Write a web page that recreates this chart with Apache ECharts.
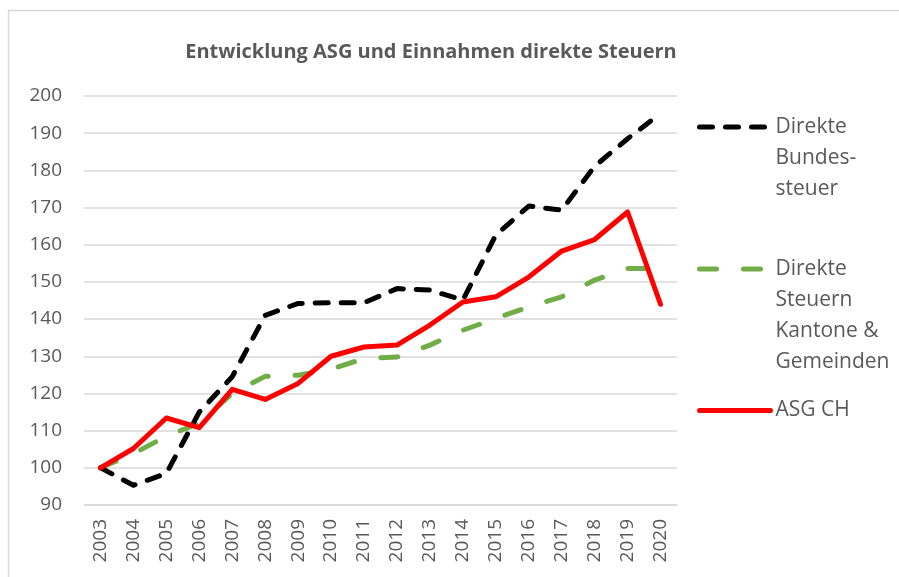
<!DOCTYPE html>
<html>
<head>
<meta charset="utf-8">
<script src="https://cdn.jsdelivr.net/npm/echarts@6/dist/echarts.min.js"></script>
<style>
  html, body { margin: 0; padding: 0; background: #fff; }
  #chart { width: 899px; height: 577px; }
</style>
</head>
<body>
<div id="chart"></div>
<script>
// Jahre (Kategorien der x-Achse)
const years = ["2003", "2004", "2005", "2006", "2007", "2008", "2009", "2010", "2011",
  "2012", "2013", "2014", "2015", "2016", "2017", "2018", "2019", "2020"];

// Index 2003 = 100
const bundessteuer = [100, 95.3, 98.5, 115, 124.5, 141, 144.2, 144.4, 144.4,
  148.2, 147.8, 145.1, 162.6, 170.4, 169.3, 181.1, 188.5, 195.3];
const kantoneGemeinden = [100, 103.8, 108.5, 112, 120, 124.6, 124.9, 126.5, 129.4,
  129.8, 133, 137, 140.2, 143.3, 146, 150.5, 153.6, 153.6];
const asgCH = [100, 105.2, 113.4, 110.8, 121.1, 118.4, 122.7, 130, 132.5,
  133, 138.4, 144.6, 146, 151.3, 158.3, 161.4, 168.8, 144];

const seriesNames = [
  "Direkte\nBundes-\nsteuer",
  "Direkte\nSteuern\nKantone &\nGemeinden",
  "ASG CH"
];

const FONT = "'Open Sans', sans-serif";
const GREY = "#595959";
const LINE_H = 31;

// Legende: Text ist vertikal zentriert -> Leerzeilen oben, damit die erste Zeile neben dem Symbol steht
function legendFor(name, top) {
  const lines = name.split("\n").length;
  return {
    top: top,
    left: 697,
    padding: 0,
    orient: "vertical",
    itemWidth: 71,
    itemHeight: 8,
    data: [{ name: name, itemStyle: { opacity: 0 } }],
    lineStyle: { width: 5 },
    formatter: n => "\n".repeat(lines - 1) + n,
    textStyle: {
      fontFamily: FONT,
      fontSize: 21,
      color: GREY,
      lineHeight: LINE_H
    }
  };
}

const chart = echarts.init(document.getElementById("chart"));

const option = {
  animation: false,
  backgroundColor: "#fff",
  title: {
    text: "Entwicklung ASG und Einnahmen direkte Steuern",
    left: 426,
    textAlign: "center",
    top: 37,
    textStyle: {
      fontFamily: FONT,
      fontSize: 20,
      fontWeight: "bold",
      color: GREY
    }
  },
  graphic: [{
    type: "rect",
    silent: true,
    shape: { x: 8.5, y: 10.5, width: 1000, height: 1000 },
    style: { fill: "none", stroke: "#d9d9d9", lineWidth: 1.5 }
  }],
  legend: [
    legendFor(seriesNames[0], 49.5),
    legendFor(seriesNames[1], 160.5),
    legendFor(seriesNames[2], 395)
  ],
  grid: {
    left: 84,
    right: 222,
    top: 96,
    bottom: 72,
    containLabel: false
  },
  xAxis: {
    type: "category",
    data: years,
    boundaryGap: true,
    axisLine: { lineStyle: { color: "#d9d9d9", width: 1.5 } },
    axisTick: { show: false },
    axisLabel: {
      rotate: 90,
      margin: 14,
      fontFamily: FONT,
      fontSize: 19,
      color: GREY
    }
  },
  yAxis: {
    type: "value",
    min: 90,
    max: 200,
    interval: 10,
    axisLine: { show: false },
    axisTick: { show: false },
    splitLine: { lineStyle: { color: "#d9d9d9", width: 1.5 } },
    axisLabel: {
      margin: 22,
      fontFamily: FONT,
      fontSize: 19,
      color: GREY
    }
  },
  series: [
    {
      name: seriesNames[0],
      type: "line",
      data: bundessteuer,
      symbol: "none",
      lineStyle: { color: "#000", width: 5, type: [13, 13], cap: "round", join: "round" },
      itemStyle: { color: "#000" },
      z: 3
    },
    {
      name: seriesNames[1],
      type: "line",
      data: kantoneGemeinden,
      symbol: "none",
      lineStyle: { color: "#70ad47", width: 5, type: [17, 27], cap: "round", join: "round" },
      itemStyle: { color: "#70ad47" },
      z: 2
    },
    {
      name: seriesNames[2],
      type: "line",
      data: asgCH,
      symbol: "none",
      lineStyle: { color: "#ff0000", width: 5, join: "round", cap: "round" },
      itemStyle: { color: "#ff0000" },
      z: 4
    }
  ]
};

chart.setOption(option);
window.addEventListener("resize", () => chart.resize());
</script>
</body>
</html>
